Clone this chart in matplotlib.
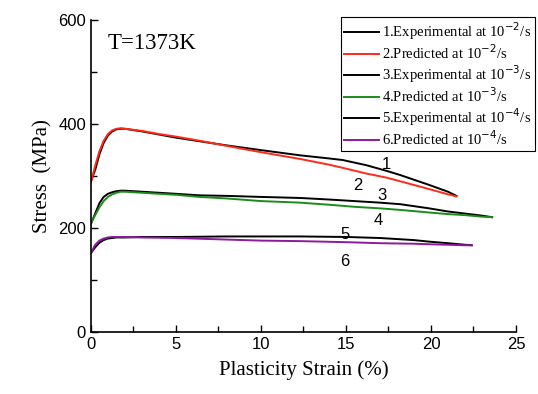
import matplotlib
matplotlib.use("Agg")
import matplotlib.pyplot as plt
from matplotlib.ticker import MultipleLocator

# ---- data ----
x1 = [0, 0.25, 0.5, 0.75, 1.0, 1.25, 1.5, 1.75, 2.0, 3, 4, 5, 6.4, 8, 10, 12.3, 14, 14.8, 16.2, 17.4, 18.2, 19.9, 21, 21.5]
y1 = [290, 312, 342, 364, 378, 386, 390, 391, 391, 386, 380, 374, 367, 359, 350, 340, 334, 331, 321, 310, 302, 283, 270, 262]
y2 = [288, 320, 348, 368, 381, 388, 391, 392, 391, 387, 381, 376, 368, 358, 346, 333, 322, 316, 305, 297, 290, 275, 265, 261]

x3 = [0, 0.25, 0.5, 0.75, 1.0, 1.25, 1.5, 1.75, 2.0, 3, 4, 5, 6.4, 8, 10, 12.3, 14, 15.5, 17, 17.4, 18.2, 19.9, 21, 22, 23, 23.6]
y3 = [208, 228, 248, 260, 266, 269, 271, 272, 272, 270, 268, 266, 263, 262, 260, 258, 255, 252, 249, 248, 246, 238, 232, 228, 224, 221]
y4 = [210, 225, 240, 252, 260, 265, 268, 270, 270, 268, 266, 264, 260, 257, 252, 249, 245, 241, 238, 237, 235, 230, 227, 225, 222, 221]

x5 = [0, 0.25, 0.5, 0.75, 1.0, 1.25, 1.5, 2, 3, 5, 8, 10, 12.3, 15, 17, 19, 19.9, 21, 22, 22.4]
y5 = [152, 163, 172, 177, 180, 181, 182, 182, 183, 183, 184, 184, 184, 183, 181, 177, 174, 171, 168, 167]
y6 = [152, 168, 176, 180, 182, 183, 183, 183, 182, 181, 178, 176, 175, 173, 171, 170, 169, 168, 167, 167]

labels = ["1.Experimental at 10$^{-2}$/s", "2.Predicted at 10$^{-2}$/s",
          "3.Experimental at 10$^{-3}$/s", "4.Predicted at 10$^{-3}$/s",
          "5.Experimental at 10$^{-4}$/s", "6.Predicted at 10$^{-4}$/s"]
curve_ids = ["1", "2", "3", "4", "5", "6"]
id_pos = [(17.4, 323), (15.7, 282), (17.1, 263), (16.9, 215), (14.95, 188), (14.95, 136)]

serif = "Liberation Serif"
sans = "Liberation Sans"

fig = plt.figure(figsize=(5.38, 3.94), dpi=100)
ax = fig.add_axes([0.169, 0.157, 0.790, 0.792])

ax.plot(x1, y1, color="black", lw=1.4, label=labels[0])
ax.plot(x1, y2, color="#ff2a1a", lw=1.4, label=labels[1])
ax.plot(x3, y3, color="black", lw=1.4, label=labels[2])
ax.plot(x3, y4, color="#1a8c1a", lw=1.4, label=labels[3])
ax.plot(x5, y5, color="black", lw=1.4, label=labels[4])
ax.plot(x5, y6, color="#8c1a9c", lw=1.4, label=labels[5])

for cid, (px, py) in zip(curve_ids, id_pos):
    ax.text(px, py, cid, fontsize=12, family=sans, ha="center", va="center")

ax.text(1.0, 555, "T=1373K", fontsize=16.5, family=serif, ha="left", va="center")

ax.set_xlim(0, 25)
ax.set_ylim(0, 600)
ax.xaxis.set_major_locator(MultipleLocator(5))
ax.xaxis.set_minor_locator(MultipleLocator(2.5))
ax.yaxis.set_major_locator(MultipleLocator(200))
ax.yaxis.set_minor_locator(MultipleLocator(100))
ax.tick_params(which="both", direction="in", width=1)
ax.tick_params(which="major", length=5, labelsize=12)
ax.tick_params(which="minor", length=4)
for lab in ax.get_xticklabels() + ax.get_yticklabels():
    lab.set_family(sans)
ax.spines["top"].set_visible(False)
ax.spines["right"].set_visible(False)
ax.spines["left"].set_linewidth(1.2)
ax.spines["bottom"].set_linewidth(1.2)

ax.set_xlabel("Plasticity Strain (%)", fontsize=15, family=serif, labelpad=6)
ax.set_ylabel("Stress  (MPa)", fontsize=15, family=serif, labelpad=4)

leg = ax.legend(loc="upper right", bbox_to_anchor=(535/538, 1 - 17/394),
                bbox_transform=fig.transFigure, borderaxespad=0,
                prop={"family": serif, "size": 10.5}, frameon=True, fancybox=False,
                edgecolor="black", handlelength=2.4, handletextpad=0.2,
                labelspacing=0.08, borderpad=0.25, framealpha=1)
leg.get_frame().set_linewidth(0.8)
leg.set_zorder(10)

fig.savefig("out.png", dpi=100)
